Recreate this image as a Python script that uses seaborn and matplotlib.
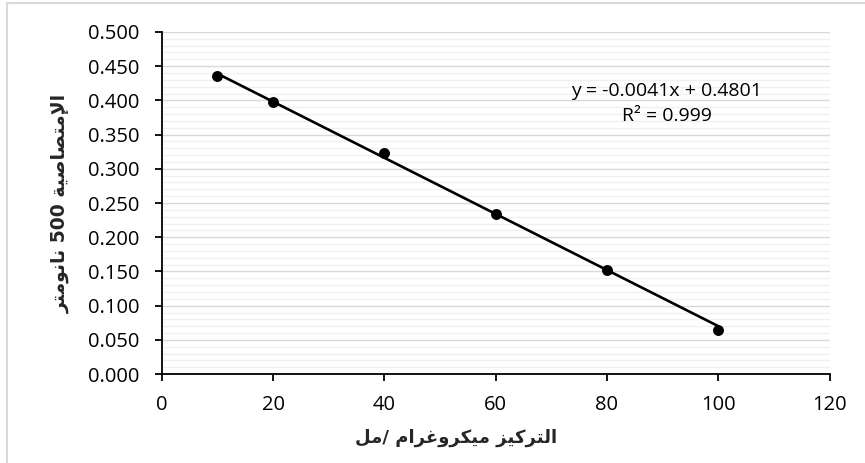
import matplotlib
matplotlib.use('Agg')
import matplotlib.pyplot as plt
import seaborn as sns
import numpy as np
import pandas as pd
from matplotlib.lines import Line2D
from matplotlib.ticker import MultipleLocator, FormatStrFormatter

# data
concentration = [10, 20, 40, 60, 80, 100]
absorbance = [0.435, 0.397, 0.323, 0.234, 0.152, 0.064]
slope = -0.0041
intercept = 0.4801
r_squared = 0.999

x_label = "التركيز ميكروغرام /مل"
y_label = "الإمتصاصية 500 نانومتر"

# presentation forms: isolated, final, initial, medial (None = does not join to the next letter)
FORMS = {
    'ا': ('\uFE8D', '\uFE8E', None, None),
    'إ': ('\uFE87', '\uFE88', None, None),
    'ل': ('\uFEDD', '\uFEDE', '\uFEDF', '\uFEE0'),
    'م': ('\uFEE1', '\uFEE2', '\uFEE3', '\uFEE4'),
    'ت': ('\uFE95', '\uFE96', '\uFE97', '\uFE98'),
    'ص': ('\uFEB9', '\uFEBA', '\uFEBB', '\uFEBC'),
    'ي': ('\uFEF1', '\uFEF2', '\uFEF3', '\uFEF4'),
    'ة': ('\uFE93', '\uFE94', None, None),
    'ن': ('\uFEE5', '\uFEE6', '\uFEE7', '\uFEE8'),
    'و': ('\uFEED', '\uFEEE', None, None),
    'ر': ('\uFEAD', '\uFEAE', None, None),
    'ز': ('\uFEAF', '\uFEB0', None, None),
    'ك': ('\uFED9', '\uFEDA', '\uFEDB', '\uFEDC'),
    'غ': ('\uFECD', '\uFECE', '\uFECF', '\uFED0'),
}
LAM_ALEF = {'ا': ('\uFEFB', '\uFEFC'), 'إ': ('\uFEF9', '\uFEFA')}


def shape_word(word):
    # join letters, then return in visual (left-to-right) order
    chars = list(word)
    out = []
    i = 0
    prev_joins = False
    while i < len(chars):
        c = chars[i]
        if c not in FORMS:
            out.append(c)
            prev_joins = False
            i += 1
            continue
        if c == 'ل' and i + 1 < len(chars) and chars[i + 1] in LAM_ALEF:
            iso, fin = LAM_ALEF[chars[i + 1]]
            out.append(fin if prev_joins else iso)
            prev_joins = False
            i += 2
            continue
        iso, fin, ini, med = FORMS[c]
        nxt = chars[i + 1] if i + 1 < len(chars) else None
        next_ok = ini is not None and nxt in FORMS
        if prev_joins and next_ok:
            out.append(med)
        elif prev_joins:
            out.append(fin)
        elif next_ok:
            out.append(ini)
        else:
            out.append(iso)
        prev_joins = next_ok
        i += 1
    return ''.join(reversed(out))


def arabic(text):
    parts = []
    for w in text.split(' '):
        if w.isdigit():
            parts.append(w)
        elif w.startswith('/'):
            parts.append(shape_word(w[1:]) + '/')
        else:
            parts.append(shape_word(w))
    return ' '.join(reversed(parts))


sns.set_theme(style='white')
plt.rcParams['font.family'] = ['Open Sans', 'DejaVu Sans']
plt.rcParams['text.color'] = 'black'

df = pd.DataFrame({'conc': concentration, 'abs': absorbance})
fit_x = np.array([min(concentration), max(concentration)])
fit_df = pd.DataFrame({'conc': fit_x, 'abs': slope * fit_x + intercept})

fig = plt.figure(figsize=(8.65, 4.63), dpi=100)
ax = fig.add_axes([0.187, 0.192, 0.772, 0.739])

sns.lineplot(data=fit_df, x='conc', y='abs', color='black', lw=1.9, ax=ax, zorder=3)
sns.scatterplot(data=df, x='conc', y='abs', color='black', s=62, edgecolor='black',
                linewidth=0, ax=ax, zorder=4)

ax.set_xlim(0, 120)
ax.set_ylim(0, 0.5)
ax.xaxis.set_major_locator(MultipleLocator(20))
ax.yaxis.set_major_locator(MultipleLocator(0.05))
ax.yaxis.set_minor_locator(MultipleLocator(0.01))
ax.yaxis.set_major_formatter(FormatStrFormatter('%.3f'))

ax.grid(which='major', axis='y', color='#d9d9d9', lw=1.0, zorder=0)
ax.grid(which='minor', axis='y', color='#f0f0f0', lw=1.0, zorder=0)
ax.grid(which='major', axis='x', visible=False)
ax.set_axisbelow(True)

for s in ['top', 'right']:
    ax.spines[s].set_visible(False)
for s in ['left', 'bottom']:
    ax.spines[s].set_color('black')
    ax.spines[s].set_linewidth(1.3)

ax.tick_params(which='major', direction='out', length=5, width=1.3, color='black',
               labelsize=14.5, labelcolor='black', left=True, bottom=True)
ax.tick_params(axis='y', which='major', pad=11)
ax.tick_params(axis='x', which='major', pad=10)
ax.tick_params(which='minor', length=0)

ax.set_xlabel(arabic(x_label), fontsize=13, fontweight='bold', family=['DejaVu Sans'])
ax.set_ylabel(arabic(y_label), fontsize=13.5, fontweight='bold', family=['DejaVu Sans'])
ax.xaxis.set_label_coords(0.44, -0.16)
ax.yaxis.set_label_coords(-0.138, 0.5)

eq = f"y = {slope:.4f}x + {intercept:.4f}\nR² = {r_squared:.3f}"
ax.text(90.7, 0.395, eq, ha='center', va='center', fontsize=14, color='black',
        linespacing=1.5)

# light frame of the chart area
fig.add_artist(Line2D([7 / 865, 7 / 865], [0, 1 - 3 / 463], color='#d9d9d9', lw=1.5))
fig.add_artist(Line2D([7 / 865, 1], [1 - 3 / 463, 1 - 3 / 463], color='#d9d9d9', lw=1.5))

fig.savefig('out.png', dpi=100)
